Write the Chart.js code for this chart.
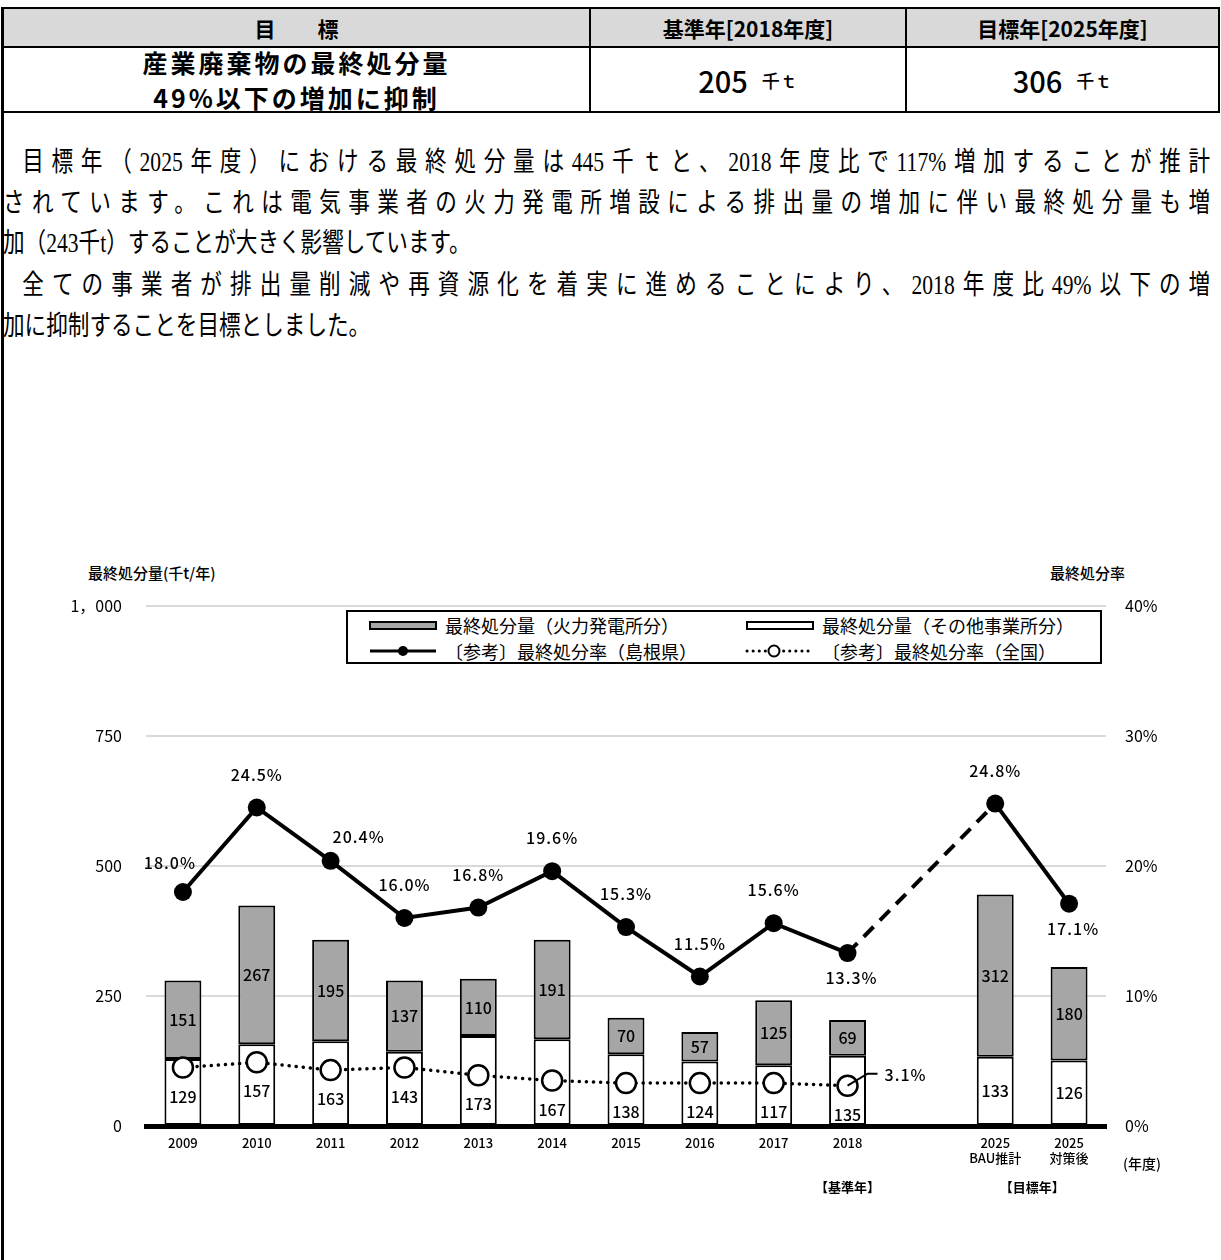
<!DOCTYPE html>
<html lang="ja"><head><meta charset="utf-8">
<script src="https://cdn.jsdelivr.net/npm/chart.js@4.4.0/dist/chart.umd.min.js"></script>
<style>
html,body{margin:0;padding:0;background:#fff;}
body{width:1221px;height:1260px;position:relative;overflow:hidden;font-family:"Noto Sans CJK JP","Noto Sans",sans-serif;color:#000;}
.a{position:absolute;}
.hl{position:absolute;background:#000;}
.cell{position:absolute;display:flex;align-items:center;justify-content:center;text-align:center;font-weight:700;}
.body-line{position:absolute;left:3px;width:1509px;font-family:"Liberation Serif","Noto Sans CJK JP",serif;font-size:27px;line-height:41px;white-space:nowrap;transform:scaleX(0.8);transform-origin:0 0;}
.just{text-align:justify;text-align-last:justify;}
.leg{position:absolute;font-size:18px;line-height:22px;white-space:nowrap;}
</style></head><body>

<!-- table frame -->
<div class="a" style="left:2px;top:8px;width:1217px;height:39px;background:#d9d9d9;"></div>
<div class="hl" style="left:1px;top:7px;width:1219px;height:2px;"></div>
<div class="hl" style="left:1px;top:46px;width:1219px;height:2px;"></div>
<div class="hl" style="left:1px;top:111px;width:1219px;height:2px;"></div>
<div class="hl" style="left:1px;top:7px;width:3px;height:1253px;"></div>
<div class="hl" style="left:1218px;top:7px;width:2px;height:106px;"></div>
<div class="hl" style="left:589px;top:7px;width:2px;height:106px;"></div>
<div class="hl" style="left:905px;top:7px;width:2px;height:106px;"></div>

<div class="cell" style="left:4px;top:9px;width:585px;height:37px;font-size:21px;">目　　標</div>
<div class="cell" style="left:591px;top:9px;width:314px;height:37px;font-size:21px;">基準年[2018年度]</div>
<div class="cell" style="left:907px;top:9px;width:311px;height:37px;font-size:21px;">目標年[2025年度]</div>

<div class="cell" style="left:4px;top:48px;width:585px;height:63px;font-size:25px;line-height:35px;letter-spacing:3px;flex-direction:column;">
  <div>産業廃棄物の最終処分量</div><div>49%以下の増加に抑制</div></div>
<div class="cell" style="left:591px;top:48px;width:314px;height:63px;"><span style="font-size:29px;font-weight:500;">205</span><span style="font-size:18px;font-weight:500;margin-left:14px;">千ｔ</span></div>
<div class="cell" style="left:907px;top:48px;width:311px;height:63px;"><span style="font-size:29px;font-weight:500;">306</span><span style="font-size:18px;font-weight:500;margin-left:14px;">千ｔ</span></div>

<!-- body text -->
<div class="body-line just" style="top:142px;padding-left:24px;width:1485px;">目標年（2025年度）における最終処分量は445千ｔと、2018年度比で117%増加することが推計</div>
<div class="body-line just" style="top:183px;">されています。これは電気事業者の火力発電所増設による排出量の増加に伴い最終処分量も増</div>
<div class="body-line" style="top:223px;">加（243千t）することが大きく影響しています。</div>
<div class="body-line just" style="top:265px;padding-left:24px;width:1485px;">全ての事業者が排出量削減や再資源化を着実に進めることにより、2018年度比49%以下の増</div>
<div class="body-line" style="top:306px;">加に抑制することを目標としました。</div>

<!-- axis titles -->
<div class="a" style="left:88px;top:562px;font-size:15px;font-weight:500;line-height:22px;">最終処分量(千t/年)</div>
<div class="a" style="left:1050px;top:562px;font-size:15px;font-weight:500;line-height:22px;">最終処分率</div>

<canvas id="c" class="a" width="1221" height="660" style="left:0;top:560px;width:1221px;height:660px;"></canvas>

<!-- legend -->
<div class="a" style="left:346px;top:610px;width:752px;height:50px;border:2px solid #000;background:#fff;"></div>
<svg class="a" style="left:366px;top:614px;" width="80" height="48">
  <rect x="4" y="8" width="66" height="7" fill="#a6a6a6" stroke="#000" stroke-width="2"/>
  <line x1="4" y1="37" x2="70" y2="37" stroke="#000" stroke-width="3"/>
  <circle cx="37" cy="37" r="5" fill="#000"/>
</svg>
<svg class="a" style="left:743px;top:614px;" width="80" height="48">
  <rect x="4" y="8" width="66" height="7" fill="#fff" stroke="#000" stroke-width="2"/>
  <line x1="4" y1="37" x2="70" y2="37" stroke="#000" stroke-width="3" stroke-dasharray="0.1 6" stroke-linecap="round"/>
  <circle cx="31" cy="37" r="5.5" fill="#fff" stroke="#000" stroke-width="2"/>
</svg>
<div class="leg" style="left:445px;top:614px;">最終処分量（火力発電所分）</div>
<div class="leg" style="left:822px;top:614px;">最終処分量（その他事業所分）</div>
<div class="leg" style="left:445px;top:640px;">〔参考〕最終処分率（島根県）</div>
<div class="leg" style="left:822px;top:640px;">〔参考〕最終処分率（全国）</div>

<script>
// ---- data ----
const categories = ['2009','2010','2011','2012','2013','2014','2015','2016','2017','2018','',['2025','BAU推計'],['2025','対策後']];
const otherVals   = [129,157,163,143,173,167,138,124,117,135,null,133,126];
const thermalVals = [151,267,195,137,110,191,70,57,125,69,null,312,180];
const shimaneRate = [18.0,24.5,20.4,16.0,16.8,19.6,15.3,11.5,15.6,13.3,null,24.8,17.1];
const nationalRate = [4.5,4.9,4.3,4.5,3.9,3.5,3.3,3.3,3.3,3.1,null,null,null];
const leftTickMax = 1000, leftTickStep = 250;
const rightTickMax = 40, rightTickStep = 10;
const shimaneLabelPlace = ['tl','t','tr','t','t','t','t','t','t','b',null,'t','b'];
const nationalLabelIndex = 9;
const baseYearIndex = 9;
const targetYearIndexes = [11,12];
// ---------------

const FONT = '"Noto Sans CJK JP", "Noto Sans", sans-serif';
const fmtPct = v => v.toFixed(1) + '%';

const labelPlugin = {
  id: 'labelPlugin',
  afterDatasetsDraw(chart) {
    const ctx = chart.ctx;
    const mO = chart.getDatasetMeta(0), mT = chart.getDatasetMeta(1);
    const mS = chart.getDatasetMeta(2), mN = chart.getDatasetMeta(3);
    ctx.save();
    ctx.fillStyle = '#000';
    ctx.textAlign = 'center';
    ctx.textBaseline = 'middle';
    ctx.font = '500 16px ' + FONT;
    mT.data.forEach((bar, i) => {
      if (thermalVals[i] == null) return;
      ctx.fillText(String(thermalVals[i]), bar.x, (bar.y + bar.base) / 2);
    });
    mO.data.forEach((bar, i) => {
      if (otherVals[i] == null) return;
      let y = (bar.y + bar.base) / 2;
      if (nationalRate[i] != null) y = Math.max(y, mN.data[i].y + 29);
      ctx.fillText(String(otherVals[i]), bar.x, y);
    });
    if ('letterSpacing' in ctx) ctx.letterSpacing = '1px';
    const offs = { t: [0, -33], tl: [-13, -29], tr: [28, -24], b: [4, 25] };
    mS.data.forEach((pt, i) => {
      if (shimaneRate[i] == null) return;
      const o = offs[shimaneLabelPlace[i]];
      ctx.fillText(fmtPct(shimaneRate[i]), pt.x + o[0], pt.y + o[1]);
    });
    // national leader label
    const p = mN.data[nationalLabelIndex];
    ctx.strokeStyle = '#000'; ctx.lineWidth = 2;
    ctx.beginPath();
    ctx.moveTo(p.x, p.y);
    ctx.lineTo(p.x + 20, p.y - 12);
    ctx.lineTo(p.x + 30, p.y - 12);
    ctx.stroke();
    ctx.textAlign = 'left';
    ctx.fillText(fmtPct(nationalRate[nationalLabelIndex]), p.x + 37, p.y - 11);
    if ('letterSpacing' in ctx) ctx.letterSpacing = '0px';
    // year notes
    const xs = chart.scales.x;
    ctx.textAlign = 'center';
    ctx.font = '700 13px ' + FONT;
    const yNote = chart.chartArea.bottom + 61;
    ctx.fillText('【基準年】', xs.getPixelForValue(baseYearIndex), yNote);
    ctx.fillText('【目標年】', (xs.getPixelForValue(targetYearIndexes[0]) + xs.getPixelForValue(targetYearIndexes[1])) / 2, yNote);
    ctx.font = '500 14px ' + FONT;
    ctx.fillText('(年度)', chart.chartArea.right + 36, chart.chartArea.bottom + 38);
    ctx.restore();
  }
};

new Chart(document.getElementById('c'), {
  data: {
    labels: categories,
    datasets: [
      { type: 'bar', label: '最終処分量（その他事業所分）', data: otherVals, yAxisID: 'y', stack: 's',
        backgroundColor: '#ffffff', borderColor: '#000', borderWidth: 2, borderSkipped: false,
        barPercentage: 0.5, categoryPercentage: 1, order: 2 },
      { type: 'bar', label: '最終処分量（火力発電所分）', data: thermalVals, yAxisID: 'y', stack: 's',
        backgroundColor: '#a6a6a6', borderColor: '#000', borderWidth: 2, borderSkipped: false,
        barPercentage: 0.5, categoryPercentage: 1, order: 2 },
      { type: 'line', label: '〔参考〕最終処分率（島根県）', data: shimaneRate, yAxisID: 'y2',
        borderColor: '#000', borderWidth: 4, pointRadius: 9, pointBackgroundColor: '#000',
        pointBorderColor: '#000', pointBorderWidth: 0, spanGaps: true, tension: 0, order: 0,
        segment: { borderDash: ctx => (shimaneRate[ctx.p1DataIndex - 1] == null ? [14, 9] : undefined) } },
      { type: 'line', label: '〔参考〕最終処分率（全国）', data: nationalRate, yAxisID: 'y2',
        borderColor: '#000', borderWidth: 3.5, borderDash: [0.1, 7], borderCapStyle: 'round',
        pointRadius: 10, pointBackgroundColor: '#fff', pointBorderColor: '#000', pointBorderWidth: 2.5,
        spanGaps: false, tension: 0, order: 1 }
    ]
  },
  options: {
    responsive: false,
    animation: false,
    devicePixelRatio: 1,
    layout: { padding: { top: 46, left: 0, right: 0, bottom: 0 } },
    plugins: { legend: { display: false }, tooltip: { enabled: false } },
    scales: {
      x: {
        stacked: true,
        grid: { display: false, drawTicks: false },
        border: { display: true, color: '#000', width: 5 },
        ticks: { color: '#000', font: { family: FONT, size: 13, weight: '500' }, padding: 9,
                 autoSkip: false, maxRotation: 0, minRotation: 0 },
        afterFit: s => { s.height = 94; }
      },
      y: {
        stacked: true, position: 'left', min: 0, max: leftTickMax,
        grid: { color: '#d9d9d9', lineWidth: 2, drawTicks: false },
        border: { display: false },
        ticks: { stepSize: leftTickStep, padding: 24, color: '#000',
                 font: { family: FONT, size: 16, weight: '400' },
                 callback: v => String(v).replace(/\B(?=(\d{3})+(?!\d))/g, '，') },
        afterFit: s => { s.width = 146; }
      },
      y2: {
        position: 'right', min: 0, max: rightTickMax,
        grid: { display: false, drawTicks: false },
        border: { display: false },
        ticks: { stepSize: rightTickStep, padding: 19, color: '#000',
                 font: { family: FONT, size: 16, weight: '400' },
                 callback: v => v + '%' },
        afterFit: s => { s.width = 115; }
      }
    }
  },
  plugins: [labelPlugin]
});
</script>
</body></html>
